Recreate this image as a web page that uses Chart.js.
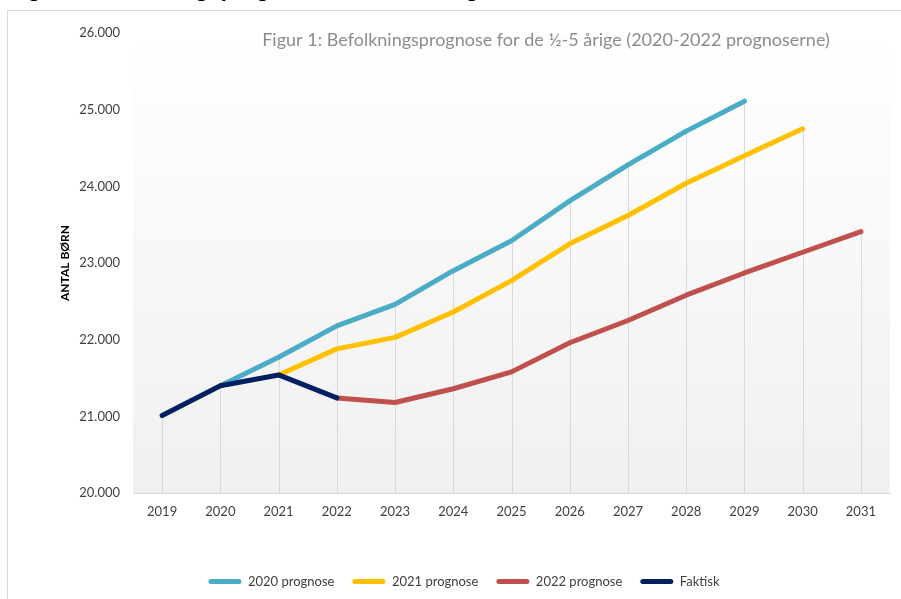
<!DOCTYPE html>
<html>
<head>
<meta charset="utf-8">
<script src="https://cdn.jsdelivr.net/npm/chart.js@4"></script>
<style>
  body { margin: 0; background: #fff; overflow: hidden; }
  #wrap { position: relative; width: 901px; height: 599px; overflow: hidden; }
  #heading { position: absolute; left: 8px; top: -22px; font: bold 22px "Liberation Sans", Arial, sans-serif; line-height: 22px; color: #000; white-space: nowrap; }
  #frame { position: absolute; left: 7px; top: 10px; width: 900px; height: 600px; border: 1px solid #d9d9d9; }
  canvas { position: absolute; left: 0; top: 0; }
</style>
</head>
<body>
<div id="wrap">
  <div id="heading">Figur 1: Befolkningsprognose for de ½-5 årige</div>
  <div id="frame"></div>
  <canvas id="chart" width="901" height="599"></canvas>
</div>
<script>
const years = ['2019', '2020', '2021', '2022', '2023', '2024', '2025', '2026', '2027', '2028', '2029', '2030', '2031']
const prog2020 = [null, 21400, 21770, 22180, 22460, 22900, 23290, 23810, 24280, 24720, 25110, null, null]
const prog2021 = [null, null, 21540, 21880, 22030, 22360, 22770, 23250, 23620, 24040, 24400, 24750, null]
const prog2022 = [null, null, null, 21240, 21180, 21360, 21580, 21960, 22250, 22580, 22870, 23140, 23410]
const faktisk = [21010, 21400, 21540, 21240, null, null, null, null, null, null, null, null, null]

const titleText = 'Figur 1: Befolkningsprognose for de ½-5 årige (2020-2022 prognoserne)'
const fontFamily = 'Lato, "Open Sans", sans-serif'

function dots(v) {
    return String(v).replace(/\B(?=(\d{3})+(?!\d))/g, '.')
}

// grey gradient behind the plot area
const plotBackground = {
    id: 'plotBackground',
    beforeDraw(chart) {
        const { ctx, chartArea: a } = chart
        const g = ctx.createLinearGradient(0, a.top, 0, a.bottom)
        g.addColorStop(0, '#ffffff')
        g.addColorStop(1, '#f0f0f0')
        ctx.save()
        ctx.fillStyle = g
        ctx.fillRect(a.left, a.top, a.right - a.left, a.bottom - a.top)
        ctx.restore()
    }
}

// drop lines from the highest point of each year down to the axis
const dropLines = {
    id: 'dropLines',
    beforeDatasetsDraw(chart) {
        const { ctx, chartArea: a, scales } = chart
        ctx.save()
        ctx.strokeStyle = '#d9d9d9'
        ctx.lineWidth = 1
        years.forEach((y, i) => {
            let top = null
            chart.data.datasets.forEach(ds => {
                const v = ds.data[i]
                if (v !== null && (top === null || v > top)) top = v
            })
            if (top === null) return
            const x = Math.round(scales.x.getPixelForValue(i)) + 0.5
            ctx.beginPath()
            ctx.moveTo(x, scales.y.getPixelForValue(top))
            ctx.lineTo(x, a.bottom)
            ctx.stroke()
        })
        ctx.restore()
    }
}

const chartTitle = {
    id: 'chartTitle',
    afterDraw(chart) {
        const { ctx } = chart
        ctx.save()
        ctx.font = '18px ' + fontFamily
        ctx.fillStyle = '#8c8c8c'
        ctx.textAlign = 'center'
        ctx.textBaseline = 'middle'
        ctx.fillText(titleText, 546, 40)
        ctx.restore()
    }
}

function line(label, data, color, order) {
    return {
        label: label,
        data: data,
        borderColor: color,
        backgroundColor: color,
        borderWidth: 5,
        borderCapStyle: 'round',
        borderJoinStyle: 'round',
        pointRadius: 0,
        pointHoverRadius: 0,
        spanGaps: false,
        order: order,
    }
}

const ctx = document.getElementById('chart').getContext('2d')
let chart = new Chart(ctx, {
    type: 'line',
    data: {
        labels: years,
        datasets: [
            line('2020 prognose', prog2020, '#4bacc6', 3),
            line('2021 prognose', prog2021, '#ffc000', 2),
            line('2022 prognose', prog2022, '#c0504d', 1),
            line('Faktisk', faktisk, '#002060', 0),
        ],
    },
    plugins: [plotBackground, dropLines, chartTitle],
    options: {
        responsive: false,
        animation: false,
        layout: {
            padding: { top: 33, left: 38, right: 11, bottom: 1 },
        },
        scales: {
            x: {
                offset: true,
                grid: { display: false, drawTicks: false },
                border: { color: '#d9d9d9' },
                ticks: {
                    color: '#404040',
                    font: { family: fontFamily, size: 13 },
                    padding: 11,
                    maxRotation: 0,
                },
                afterFit(scale) { scale.height = 64 },
            },
            y: {
                min: 20000,
                max: 26000,
                grid: { display: false, drawTicks: false },
                border: { display: false },
                ticks: {
                    stepSize: 1000,
                    color: '#404040',
                    font: { family: fontFamily, size: 13 },
                    padding: 13,
                    callback: v => dots(v),
                },
                title: {
                    display: true,
                    text: 'ANTAL BØRN',
                    color: '#000',
                    font: { family: fontFamily, size: 12, weight: 'bold' },
                    padding: { top: 20, bottom: 0 },
                },
                afterFit(scale) { scale.width = 95 },
            },
        },
        plugins: {
            legend: {
                position: 'bottom',
                labels: {
                    sort: (a, b) => a.datasetIndex - b.datasetIndex,
                    boxWidth: 33,
                    boxHeight: 5,
                    useBorderRadius: true,
                    borderRadius: 2.5,
                    padding: 18,
                    color: '#404040',
                    font: { family: fontFamily, size: 13 },
                    generateLabels(c) {
                        return Chart.defaults.plugins.legend.labels.generateLabels(c).map(it => {
                            it.lineWidth = 0
                            return it
                        })
                    },
                },
            },
            title: { display: false },
            tooltip: { enabled: false },
        },
    },
})
</script>
</body>
</html>
